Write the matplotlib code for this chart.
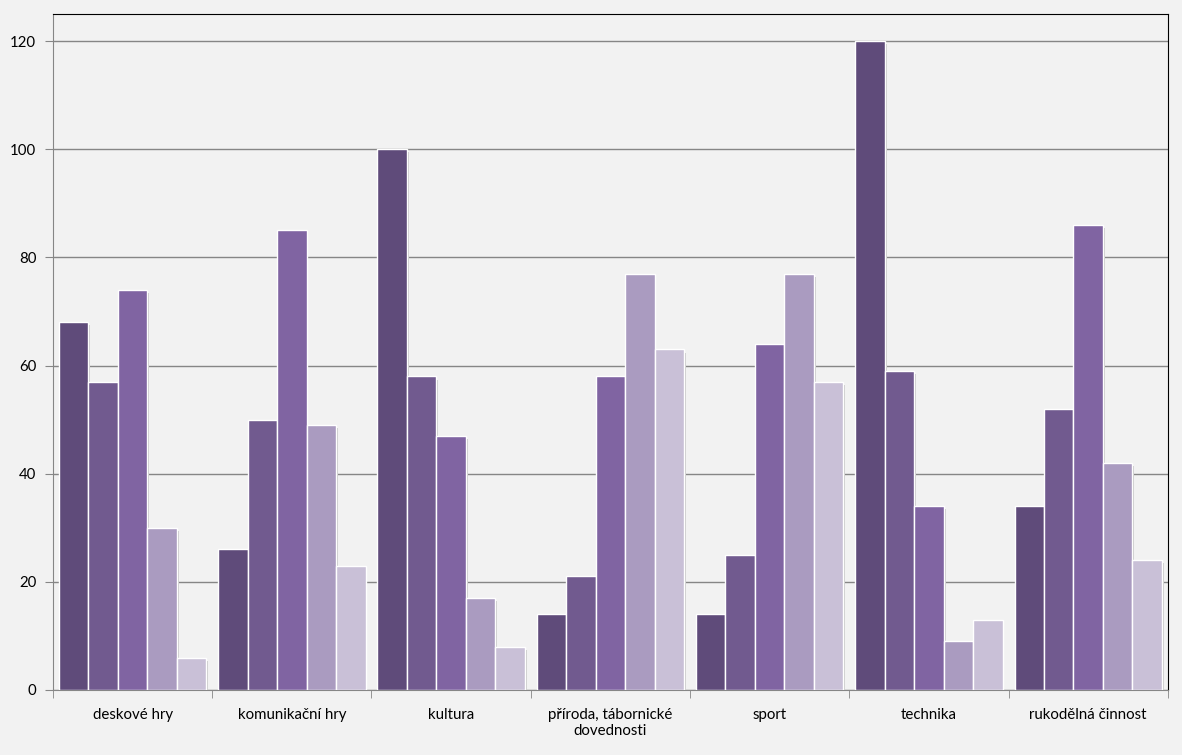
import numpy as np
from matplotlib import pyplot as plt

categories = ['deskové hry', 'komunikační hry', 'kultura',
              'příroda, tábornické\ndovednosti', 'sport', 'technika',
              'rukodělná činnost']
s1 = [68, 26, 100, 14, 14, 120, 34]
s2 = [57, 50, 58, 21, 25, 59, 52]
s3 = [74, 85, 47, 58, 64, 34, 86]
s4 = [30, 49, 17, 77, 77, 9, 42]
s5 = [6, 23, 8, 63, 57, 13, 24]
series = [s1, s2, s3, s4, s5]
colors = ['#5F4B7A', '#715A8F', '#8064A2', '#AA9BC0', '#C9C0D7']

plt.rcParams['font.family'] = ['Lato', 'DejaVu Sans']

fig = plt.figure(figsize=(11.82, 7.55), dpi=100, facecolor='#F2F2F2')
ax = fig.add_axes([0.0448, 0.0861, 0.9432, 0.8954])
ax.set_facecolor('#F2F2F2')

x = np.arange(len(categories))
w = 0.185
for i, vals in enumerate(series):
    pos = x + (i - 2) * w
    # soft shadow
    ax.bar(pos + 0.012, vals, w, bottom=-0.6, color='#C8C8C8', zorder=2)
    ax.bar(pos, vals, w, color=colors[i], edgecolor='white', linewidth=1, zorder=3)

ax.set_xlim(-0.5, len(categories) - 0.5)
ax.set_ylim(0, 125)
ax.set_yticks(range(0, 121, 20))
ax.yaxis.grid(True, color='#868686', linewidth=1)
ax.set_axisbelow(True)

ax.set_xticks(x)
ax.set_xticklabels(categories, fontsize=10.8)
ax.set_xticks(np.arange(-0.5, len(categories), 1), minor=True)
ax.tick_params(axis='x', which='major', length=0, pad=13)
ax.tick_params(axis='x', which='minor', length=6, color='#868686')
ax.tick_params(axis='y', length=6, color='#868686', labelsize=10.8, pad=6)

for side in ['left', 'bottom']:
    ax.spines[side].set_color('#868686')
for side in ['top', 'right']:
    ax.spines[side].set_color('black')

plt.savefig('out.png', dpi=100, facecolor='#F2F2F2')
